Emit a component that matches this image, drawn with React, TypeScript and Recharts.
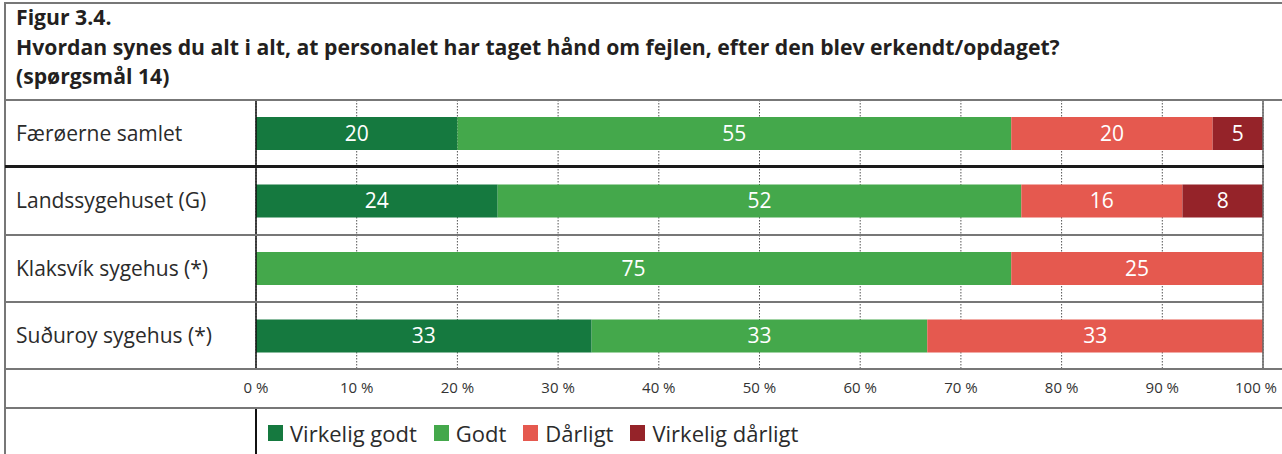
import React from "react";
import {
  BarChart,
  Bar,
  XAxis,
  YAxis,
  CartesianGrid,
  LabelList,
  ReferenceLine,
} from "recharts";

const categories = [
  "Færøerne samlet",
  "Landssygehuset (G)",
  "Klaksvík sygehus (*)",
  "Suðuroy sygehus (*)",
];
const virkeligGodt = [20, 24, 0, 33.33];
const godt = [55, 52, 75, 33.33];
const daarligt = [20, 16, 25, 33.34];
const virkeligDaarligt = [5, 8, 0, 0];
const tickValues = [0, 10, 20, 30, 40, 50, 60, 70, 80, 90, 100];

const seriesNames = ["Virkelig godt", "Godt", "Dårligt", "Virkelig dårligt"];
const seriesKeys = ["vg", "g", "d", "vd"];
const seriesColors = ["#15793f", "#44a84b", "#e5594f", "#952329"];

const titleLines = [
  "Figur 3.4.",
  "Hvordan synes du alt i alt, at personalet har taget hånd om fejlen, efter den blev erkendt/opdaget?",
  "(spørgsmål 14)",
];

const data = categories.map((name, i) => ({
  name,
  vg: virkeligGodt[i],
  g: godt[i],
  d: daarligt[i],
  vd: virkeligDaarligt[i],
}));

const FONT = "'Open Sans', 'Noto Sans', sans-serif";

const fmt = (v: any) => {
  const n = Number(v);
  if (!n) return "";
  return String(Math.round(n));
};

const CatTick = (props: any) => {
  const { y, payload } = props;
  return (
    <text x={16} y={y} dy={7} textAnchor="start" fontSize={21} fill="#2b2b2b" fontFamily={FONT}>
      {payload.value}
    </text>
  );
};

const PctTick = (props: any) => {
  const { x, y, payload } = props;
  const last = payload.value === tickValues[tickValues.length - 1];
  return (
    <text x={x} y={y} dy={15} dx={last ? -7 : 0} textAnchor="middle" fontSize={15} fill="#333" fontFamily={FONT}>
      {`${payload.value} %`}
    </text>
  );
};

const LegendContent = () => (
  <div style={{ display: "flex", alignItems: "center", fontFamily: FONT, fontSize: 22, color: "#2b2b2b" }}>
    {seriesNames.map((n, i) => (
      <div key={n} style={{ display: "flex", alignItems: "center", marginRight: 17 }}>
        <span style={{ display: "inline-block", width: 15, height: 16, background: seriesColors[i], marginRight: 7 }} />
        <span>{n}</span>
      </div>
    ))}
  </div>
);

const hLine = (top: number, left: number, width: number, h: number, color: string) => (
  <div style={{ position: "absolute", top, left, width, height: h, background: color }} />
);
const vLine = (left: number, top: number, height: number, w: number, color: string) => (
  <div style={{ position: "absolute", top, left, width: w, height, background: color }} />
);

export default function App() {
  return (
    <div
      style={{
        position: "absolute",
        left: 0,
        top: 0,
        width: 1282,
        height: 454,
        background: "#fff",
        overflow: "hidden",
        fontFamily: FONT,
      }}
    >
      <div style={{ position: "absolute", left: 0, top: 0 }}>
        <BarChart
          width={1282}
          height={454}
          data={data}
          layout="vertical"
          margin={{ top: 100, right: 19, bottom: 54, left: 0 }}
          barCategoryGap={0}
        >
          <CartesianGrid horizontal={false} vertical={true} stroke="#555" strokeDasharray="1.5 1.5" strokeWidth={1} />
          <XAxis
            type="number"
            domain={[0, 100]}
            ticks={tickValues}
            axisLine={false}
            tickLine={false}
            tick={<PctTick />}
            tickMargin={2}
            interval={0}
            height={30}
          />
          <YAxis type="category" dataKey="name" width={256} axisLine={false} tickLine={false} tick={<CatTick />} />
          {seriesKeys.map((k, i) => (
            <Bar key={k} dataKey={k} name={seriesNames[i]} stackId="a" fill={seriesColors[i]} barSize={33} isAnimationActive={false}>
              <LabelList dataKey={k} position="center" fill="#fff" fontSize={21} fontFamily={FONT} formatter={fmt} />
            </Bar>
          ))}
          <ReferenceLine x={0} stroke="#111" strokeWidth={1.5} />
          <ReferenceLine x={100} stroke="#666" strokeWidth={1.5} />
        </BarChart>
      </div>

      <div style={{ position: "absolute", left: 268, top: 418 }}>
        <LegendContent />
      </div>

      {/* title */}
      <div
        style={{
          position: "absolute",
          left: 16,
          top: 2,
          fontWeight: 700,
          fontSize: 21.2,
          lineHeight: "29.5px",
          color: "#231f20",
          whiteSpace: "nowrap",
        }}
      >
        {titleLines.map((t) => (
          <div key={t}>{t}</div>
        ))}
      </div>

      {/* frame lines */}
      {hLine(2, 5, 1277, 2, "#777")}
      {vLine(4, 2, 452, 2, "#777")}
      {hLine(99, 5, 1277, 2, "#777")}
      {hLine(165, 5, 1259, 3, "#1a1a1a")}
      {hLine(234, 5, 1259, 2, "#777")}
      {hLine(301, 5, 1259, 2, "#777")}
      {hLine(368, 5, 1277, 2, "#777")}
      {hLine(407, 5, 1277, 2, "#777")}
      {vLine(255, 409, 45, 1.5, "#111")}
    </div>
  );
}
